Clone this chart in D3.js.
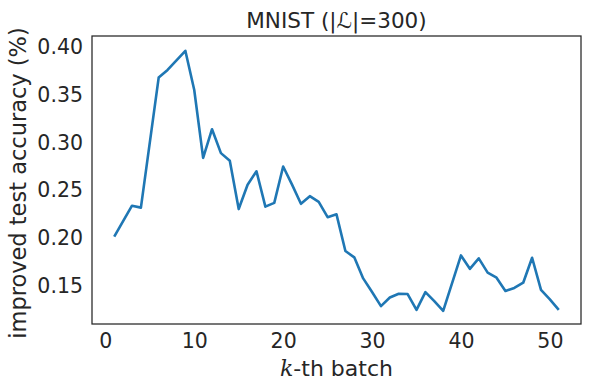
<!DOCTYPE html>
<html><head><meta charset="utf-8">
<script src="https://cdn.jsdelivr.net/npm/d3@7"></script>
<style>body{margin:0;background:#fff}svg text{font-family:"DejaVu Sans",sans-serif;fill:#262626}</style>
</head><body><svg id="c" width="590" height="390"></svg>
<script>
const batches = d3.range(1, 52);
const improvement = [0.2016,0.218,0.234,0.232,0.300,0.368,0.376,0.386,0.396,0.355,
  0.284,0.314,0.289,0.281,0.2305,0.256,0.270,0.233,0.237,0.275,
  0.256,0.236,0.244,0.238,0.222,0.225,0.1866,0.180,0.158,0.1437,
  0.129,0.138,0.142,0.1416,0.125,0.1437,0.1343,0.124,0.153,0.182,
  0.168,0.179,0.164,0.1587,0.1448,0.148,0.1535,0.1796,0.146,0.136,0.125];
const xTicks = [0,10,20,30,40,50];
const yTicks = [0.15,0.20,0.25,0.30,0.35,0.40];
const titleText = "MNIST (|ℒ|=300)";

const svg = d3.select("#c");
const L=92, R=581, T=36, B=324;
const x = d3.scaleLinear().domain([-1.5,53.5]).range([L,R]);
const y = d3.scaleLinear().domain([0.1103,0.4115]).range([B,T]);

const fs = 20.5;
svg.append("g").attr("transform",`translate(0,${B})`)
  .call(d3.axisBottom(x).tickValues(xTicks).tickSize(0).tickPadding(9).tickFormat(d3.format("d")))
  .call(g=>{g.select(".domain").remove();g.selectAll("text").attr("font-size",fs).attr("font-family","DejaVu Sans").attr("fill","#262626");});
svg.append("g").attr("transform",`translate(${L},0)`)
  .call(d3.axisLeft(y).tickValues(yTicks).tickSize(0).tickPadding(9).tickFormat(d3.format(".2f")))
  .call(g=>{g.select(".domain").remove();g.selectAll("text").attr("font-size",fs).attr("font-family","DejaVu Sans").attr("fill","#262626");});

svg.append("path").datum(batches.map((b,i)=>[b,improvement[i]]))
  .attr("fill","none").attr("stroke","#1f77b4").attr("stroke-width",2.6)
  .attr("stroke-linejoin","round").attr("stroke-linecap","butt")
  .attr("d", d3.line().x(d=>x(d[0])).y(d=>y(d[1])));

svg.append("rect").attr("x",L).attr("y",T).attr("width",R-L).attr("height",B-T)
  .attr("fill","none").attr("stroke","#262626").attr("stroke-width",1.25);

svg.append("text").attr("x",(L+R)/2).attr("y",28).attr("text-anchor","middle")
  .attr("font-size",21.5).text(titleText);

const xl = svg.append("text").attr("x",(L+R)/2).attr("y",376).attr("text-anchor","middle").attr("font-size",22);
xl.append("tspan").attr("font-family","DejaVu Serif").attr("font-style","italic").text("k");
xl.append("tspan").text("-th batch");

svg.append("text").attr("transform",`translate(26,${(T+B)/2+3}) rotate(-90)`)
  .attr("text-anchor","middle").attr("font-size",22.5).text("improved test accuracy (%)");
</script></body></html>
